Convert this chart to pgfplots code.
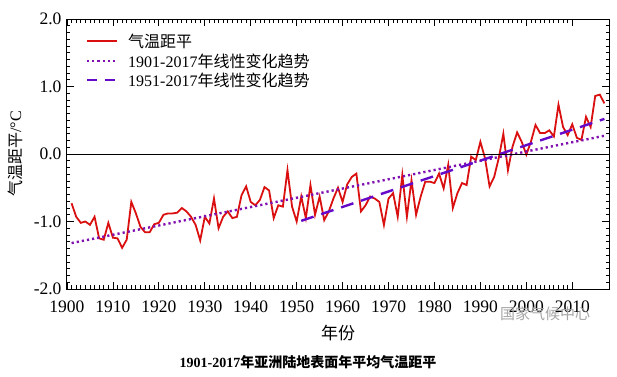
\documentclass[border=0pt]{standalone}
\usepackage{fontspec}
\setmainfont{Liberation Serif}
\newfontfamily\cjk{Noto Sans CJK SC}
\usepackage{pgfplots}
\pgfplotsset{compat=1.18}
\usetikzlibrary{calc}
\definecolor{anomred}{RGB}{218,16,16}
\definecolor{tdot}{RGB}{128,16,176}
\definecolor{tdash}{RGB}{100,10,200}
\pgfplotstableread{
year val
1901 -0.73
1902 -0.93
1903 -1.02
1904 -1.00
1905 -1.05
1906 -0.93
1907 -1.25
1908 -1.27
1909 -1.02
1910 -1.24
1911 -1.25
1912 -1.39
1913 -1.27
1914 -0.71
1915 -0.88
1916 -1.08
1917 -1.16
1918 -1.16
1919 -1.04
1920 -1.02
1921 -0.90
1922 -0.88
1923 -0.88
1924 -0.87
1925 -0.80
1926 -0.85
1927 -0.93
1928 -1.05
1929 -1.28
1930 -0.93
1931 -1.03
1932 -0.66
1933 -1.10
1934 -0.93
1935 -0.85
1936 -0.95
1937 -0.93
1938 -0.61
1939 -0.48
1940 -0.71
1941 -0.76
1942 -0.68
1943 -0.49
1944 -0.54
1945 -0.95
1946 -0.76
1947 -0.78
1948 -0.24
1949 -0.78
1950 -1.00
1951 -0.63
1952 -0.95
1953 -0.46
1954 -0.90
1955 -0.63
1956 -0.98
1957 -0.85
1958 -0.66
1959 -0.50
1960 -0.71
1961 -0.45
1962 -0.34
1963 -0.29
1964 -0.85
1965 -0.76
1966 -0.63
1967 -0.66
1968 -0.71
1969 -1.05
1970 -0.66
1971 -0.58
1972 -0.93
1973 -0.31
1974 -0.93
1975 -0.39
1976 -0.90
1977 -0.63
1978 -0.41
1979 -0.41
1980 -0.43
1981 -0.29
1982 -0.51
1983 -0.16
1984 -0.80
1985 -0.58
1986 -0.43
1987 -0.46
1988 -0.04
1989 -0.09
1990 0.18
1991 -0.06
1992 -0.48
1993 -0.34
1994 -0.06
1995 0.30
1996 -0.24
1997 0.11
1998 0.32
1999 0.18
2000 -0.01
2001 0.18
2002 0.43
2003 0.31
2004 0.31
2005 0.35
2006 0.26
2007 0.73
2008 0.40
2009 0.28
2010 0.44
2011 0.24
2012 0.21
2013 0.55
2014 0.40
2015 0.86
2016 0.88
2017 0.75
}\anomaly
\begin{document}
\begin{tikzpicture}
\begin{axis}[name=ax, scale only axis, width=542bp, height=270bp,
  xmin=1900, xmax=2018, ymin=-2, ymax=2,
  xtick={1900,1910,...,2010},
  xticklabels={1900,1910,1920,1930,1940,1950,1960,1970,1980,1990,2000,2010},
  ytick={-2,-1,0,1,2},
  yticklabels={-2.0,-1.0,0.0,1.0,2.0},
  minor x tick num=9, minor y tick num=9,
  tick align=inside, xtick pos=both, ytick pos=both,
  major tick length=7bp, minor tick length=3.5bp,
  tick style={black, line width=0.8bp},
  axis line style={black, line width=1bp},
  ticklabel style={font=\fontsize{17.5bp}{19bp}\selectfont},
  xticklabel style={yshift=-8bp},
  yticklabel style={xshift=-2bp},
  xlabel={\cjk 年份},
  ylabel={{\cjk 气温距平}/°C},
  xlabel style={font=\fontsize{17bp}{19bp}\selectfont, at={(axis description cs:0.5,-0.163)}, anchor=center},
  ylabel style={font=\fontsize{16bp}{18bp}\selectfont, at={(axis description cs:-0.096,0.5)}, anchor=center},
]
\addplot[anomred, line width=1.8bp] table[x=year, y=val] {\anomaly};
\addplot[tdot, line width=2.4bp, dash pattern=on 2.2bp off 3bp] coordinates {(1901,-1.32) (2017,0.27)};
\addplot[tdash, line width=2.4bp, dash pattern=on 13bp off 8bp] coordinates {(1951,-0.99) (2017,0.52)};
\draw[black, line width=0.8bp] (axis cs:1900,0) -- (axis cs:2018,0);
\end{axis}
% legend
\draw[anomred, line width=1.8bp] ($(ax.north west)+(20bp,-22bp)$) -- ++(30bp,0);
\draw[tdot, line width=2.4bp, dash pattern=on 2.2bp off 3bp] ($(ax.north west)+(20bp,-42bp)$) -- ++(30bp,0);
\draw[tdash, line width=2.4bp, dash pattern=on 10bp off 8bp] ($(ax.north west)+(20bp,-61bp)$) -- ++(30bp,0);
\begin{scope}[every node/.style={anchor=west, inner sep=0pt, font=\fontsize{16bp}{19bp}\selectfont}]
\node at ($(ax.north west)+(61bp,-22bp)$) {\cjk 气温距平};
\node at ($(ax.north west)+(61bp,-42bp)$) {1901-2017{\cjk 年线性变化趋势}};
\node at ($(ax.north west)+(61bp,-61bp)$) {1951-2017{\cjk 年线性变化趋势}};
\end{scope}
\node[font=\fontsize{14bp}{16bp}\selectfont\bfseries] at ($(ax.south west)+(241bp,-73bp)$) {1901-2017{\cjk 年亚洲陆地表面年平均气温距平}};
\node[text=black!35, font=\fontsize{15bp}{17bp}\selectfont] at ($(ax.south west)+(478bp,-25bp)$) {\cjk 国家气候中心};
\pgfresetboundingbox
\path[use as bounding box] ($(ax.south west)+(-67bp,-88bp)$) rectangle ($(ax.north east)+(8bp,19bp)$);
\end{tikzpicture}
\end{document}
